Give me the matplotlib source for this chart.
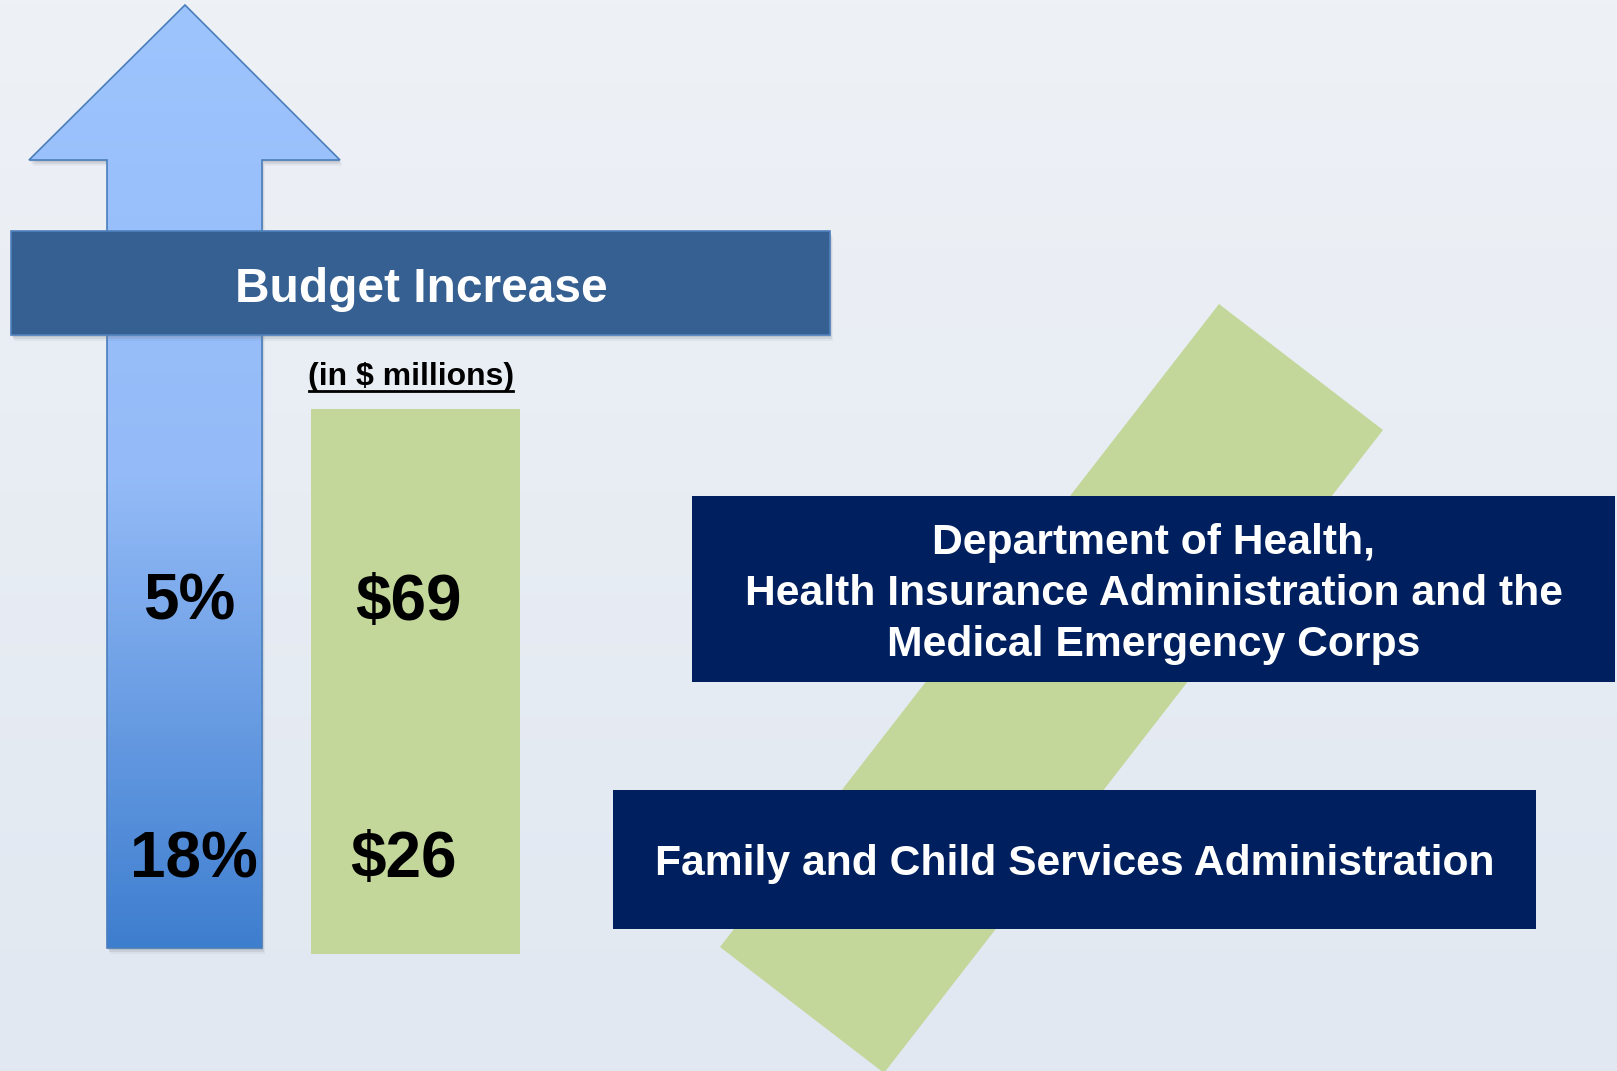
import matplotlib.pyplot as plt
import numpy as np
from matplotlib.patches import Polygon, Rectangle
from matplotlib.colors import LinearSegmentedColormap

# datos
pct_increase = ["5%", "18%"]
amount_increase = [69, 26]
agencies = ["Department of Health,\nHealth Insurance Administration and the\nMedical Emergency Corps",
            "Family and Child Services Administration"]
title = "Budget Increase"
unit_note = "(in $ millions)"

# layout (pixel space)
W, H = 1617, 1071
row_y = [603, 860]
pct_x = [189, 194]
amount_x = [408, 403]
agency_boxes = [(692, 496, 923, 186), (613, 790, 923, 139)]
FONT = "Liberation Sans"

fig = plt.figure(figsize=(W / 100, H / 100), dpi=100)
ax = fig.add_axes([0, 0, 1, 1])
ax.set_xlim(0, W)
ax.set_ylim(H, 0)
ax.axis("off")

# fondo degradado
bg = LinearSegmentedColormap.from_list("bg", ["#eef1f6", "#e1e8f1"])
grad = np.linspace(0, 1, 256).reshape(-1, 1)
ax.imshow(grad, cmap=bg, extent=[0, W, H, 0], aspect="auto", zorder=0)

# banda verde diagonal
band = Polygon([(1219, 304), (1383, 430), (884, 1073), (720, 947)], closed=True,
               facecolor="#c4d79b", edgecolor="none", zorder=1)
ax.add_patch(band)

# flecha con degradado
arrow_pts = [(185, 5), (340, 160), (262, 160), (262, 948), (107, 948), (107, 160), (29, 160)]
for off, al in [(6, 0.08), (4, 0.15), (2, 0.2)]:
    shadow = Polygon([(x + off / 2, y + off) for x, y in arrow_pts], closed=True,
                     facecolor="#6f7a89", edgecolor="none", alpha=al, zorder=2)
    ax.add_patch(shadow)
arrow = Polygon(arrow_pts, closed=True, facecolor="none", edgecolor="#4a7ebb", lw=1.2, zorder=4)
ax.add_patch(arrow)
blue = LinearSegmentedColormap.from_list("blue", ["#9ec4fe", "#94bbf7", "#3e7ecf"])
img = ax.imshow(grad, cmap=blue, extent=[29, 340, 948, 5], aspect="auto", zorder=3)
img.set_clip_path(arrow)

# cinta del titulo
for off, al in [(6, 0.08), (4, 0.15), (2, 0.2)]:
    ax.add_patch(Rectangle((11 + off / 2, 231 + off), 819, 104, facecolor="#6f7a89",
                           alpha=al, edgecolor="none", zorder=5))
ax.add_patch(Rectangle((11, 231), 819, 104, facecolor="#366092", edgecolor="#4f81bd", lw=1.2, zorder=6))
ax.text(421, 289, title, ha="center", va="center", color="white", fontsize=34.5,
        fontweight="bold", family=FONT, zorder=7)

# nota de unidades subrayada
ax.text(411, 377, unit_note, ha="center", va="center", color="black", fontsize=23,
        fontweight="bold", family=FONT, zorder=7)
ax.plot([309, 513], [391, 391], color="black", lw=2, zorder=7)

# barra verde de montos
ax.add_patch(Rectangle((311, 409), 209, 545, facecolor="#c4d79b", edgecolor="none", zorder=3))

for y, px, ax_, p, a in zip(row_y, pct_x, amount_x, pct_increase, amount_increase):
    ax.text(px, y, p, ha="center", va="center", fontsize=46, fontweight="bold",
            family=FONT, color="black", zorder=8)
    ax.text(ax_, y, f"${a}", ha="center", va="center", fontsize=46, fontweight="bold",
            family=FONT, color="black", zorder=8)

# cajas de agencias
for (x0, y0, w, h), name in zip(agency_boxes, agencies):
    ax.add_patch(Rectangle((x0, y0), w, h, facecolor="#001f5f", edgecolor="none", zorder=5))
    ax.text(x0 + w / 2, y0 + h / 2 + 5, name, ha="center", va="center", color="white",
            fontsize=30.7, fontweight="bold", family=FONT, linespacing=1.34, zorder=7)

fig.savefig("out.png", dpi=100)
